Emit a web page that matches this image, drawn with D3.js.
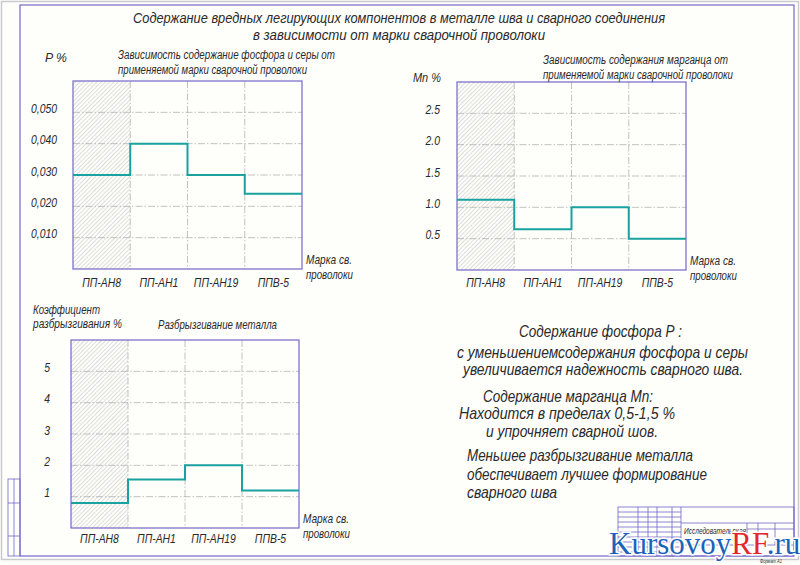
<!DOCTYPE html>
<html>
<head>
<meta charset="utf-8">
<title>Содержание вредных легирующих компонентов</title>
<script src="https://d3js.org/d3.v7.min.js"></script>
<style>
    body { margin: 0; background: #fefefb; }
    svg { display: block; }
    text { font-family: "Liberation Sans", Arimo, sans-serif; font-style: italic; fill: #2a2a2a; }
</style>
</head>
<body>
<div id="sheet"></div>
<script>
    // wire grades on the x axis (same for all three charts)
    const wires = ["ПП-АН8", "ПП-АН1", "ПП-АН19", "ППВ-5"];

    // series
    const phosphorus = [0.030, 0.040, 0.030, 0.024];
    const manganese = [1.12, 0.65, 1.0, 0.5];
    const spatter = [0.8, 1.55, 2.0, 1.2];

    // tick values and labels
    const pTicks = [0.01, 0.02, 0.03, 0.04, 0.05];
    const pTickLabels = ["0,010", "0,020", "0,030", "0,040", "0,050"];
    const mnTicks = [0.5, 1.0, 1.5, 2.0, 2.5];
    const mnTickLabels = ["0.5", "1.0", "1.5", "2.0", "2.5"];
    const spTicks = [1, 2, 3, 4, 5];
    const spTickLabels = ["1", "2", "3", "4", "5"];

    const notes = [
        "Содержание фосфора Р :",
        "с уменьшениемсодержания фосфора и серы",
        "увеличивается надежность сварного шва.",
        "Содержание марганца Mn:",
        "Находится в пределах 0,5-1,5 %",
        "и упрочняет сварной шов.",
        "Меньшее разбрызгивание металла",
        "обеспечивает лучшее формирование",
        "сварного шва"
    ];

    const W = 800, H = 565;
    const frameColor = "#7367c9";
    const lineColor = "#19a29f";
    const narrow = 0.8; // the drawing font is tall and narrow

    const svg = d3.select("#sheet").append("svg")
        .attr("width", W).attr("height", H);

    // squeeze a text to a width (or by the narrow factor)
    function squeeze(sel, width) {
        sel.each(function () {
            const w = width || this.getComputedTextLength() * narrow;
            d3.select(this).attr("textLength", w).attr("lengthAdjust", "spacingAndGlyphs");
        });
    }

    function label(x, y, size, str, width, anchor) {
        const t = svg.append("text").attr("x", x).attr("y", y)
            .attr("text-anchor", anchor || "start")
            .style("font-size", size + "px").text(str);
        squeeze(t, width);
        return t;
    }

    // hatch pattern for the first column
    svg.append("defs").append("pattern")
        .attr("id", "hatch")
        .attr("patternUnits", "userSpaceOnUse")
        .attr("width", 3).attr("height", 3)
        .attr("patternTransform", "rotate(45)")
        .append("line")
        .attr("x1", 0).attr("y1", 0).attr("x2", 0).attr("y2", 3)
        .attr("stroke", "#a9a9a9").attr("stroke-width", 0.8);

    // sheet border and drawing frame
    svg.append("rect").attr("x", 1.5).attr("y", 1.5).attr("width", 797).attr("height", 558)
        .attr("fill", "none").attr("stroke", "#c9c9cf").attr("stroke-width", 1.5);
    svg.append("rect").attr("x", 20).attr("y", 5).attr("width", 774).attr("height", 551)
        .attr("fill", "none").attr("stroke", frameColor).attr("stroke-width", 1.2);

    // title
    label(133, 23, 15, "Содержание вредных легирующих компонентов в металле шва и сварного соединения", 532);
    label(253, 40, 15, "в зависимости от марки сварочной проволоки", 292);

    function drawPanel(p) {
        const g = svg.append("g");

        const x = d3.scaleBand().domain(wires).range([p.left, p.right]).padding(0);
        const y = d3.scaleLinear().domain([0, p.max]).range([p.bottom, p.top]);

        // hatched first column
        g.append("rect")
            .attr("x", x(wires[0])).attr("y", p.top)
            .attr("width", x.bandwidth()).attr("height", p.bottom - p.top)
            .attr("fill", "url(#hatch)");

        // dash-dot grid
        g.selectAll(".hgrid").data(p.ticks).enter().append("line")
            .attr("x1", p.left).attr("x2", p.right)
            .attr("y1", d => y(d)).attr("y2", d => y(d))
            .attr("stroke", "#b3b3b3").attr("stroke-width", 0.8)
            .attr("stroke-dasharray", "7,2,1.5,2");
        g.selectAll(".vgrid").data(wires.slice(1)).enter().append("line")
            .attr("x1", d => x(d)).attr("x2", d => x(d))
            .attr("y1", p.top).attr("y2", p.bottom)
            .attr("stroke", "#b3b3b3").attr("stroke-width", 0.8)
            .attr("stroke-dasharray", "7,2,1.5,2");

        // frame
        g.append("rect")
            .attr("x", p.left).attr("y", p.top)
            .attr("width", p.right - p.left).attr("height", p.bottom - p.top)
            .attr("fill", "none").attr("stroke", frameColor).attr("stroke-width", 1.2);

        // step line
        const pts = p.values.map((v, i) => [x(wires[i]), y(v)]);
        pts.push([x.range()[1], y(p.values[p.values.length - 1])]);
        g.append("path")
            .attr("d", d3.line().curve(d3.curveStepAfter)(pts))
            .attr("fill", "none").attr("stroke", lineColor).attr("stroke-width", 2);

        // y tick labels
        const yAxis = g.append("g")
            .attr("transform", `translate(${p.left},0)`)
            .call(d3.axisLeft(y).tickValues(p.ticks).tickSize(0).tickPadding(p.labelPad)
                .tickFormat((d, i) => p.tickLabels[i]));
        yAxis.select(".domain").remove();
        yAxis.selectAll("text").attr("dy", 0).attr("fill", "#2a2a2a")
            .style("font-size", "13px").style("font-family", null).call(squeeze);

        // x labels
        const xAxis = g.append("g")
            .attr("transform", `translate(0,${p.bottom})`)
            .call(d3.axisBottom(x).tickSize(0).tickPadding(0));
        xAxis.select(".domain").remove();
        xAxis.selectAll("text").attr("dy", p.xLabelDy).attr("fill", "#2a2a2a")
            .style("font-size", "13px").style("font-family", null).call(squeeze);

        // x axis caption
        label(p.right + 4, p.bottom - 5, 13, "Марка св.", 46);
        label(p.right + 4, p.bottom + 10, 13, "проволоки", 47);
    }

    drawPanel({
        left: 73, right: 302, top: 81, bottom: 269, max: 0.06,
        values: phosphorus, ticks: pTicks, tickLabels: pTickLabels,
        labelPad: 16, xLabelDy: 18
    });
    drawPanel({
        left: 457, right: 686, top: 82, bottom: 270, max: 3,
        values: manganese, ticks: mnTicks, tickLabels: mnTickLabels,
        labelPad: 17, xLabelDy: 17
    });
    drawPanel({
        left: 71, right: 299, top: 340, bottom: 528, max: 6,
        values: spatter, ticks: spTicks, tickLabels: spTickLabels,
        labelPad: 21, xLabelDy: 15
    });

    // captions of the charts
    label(45, 62, 13, "P %", 22);
    label(118, 59, 12.5, "Зависимость содержание фосфора и серы от", 217);
    label(118, 74, 12.5, "применяемой марки сварочной проволоки", 189);
    label(413, 82, 13, "Mn %", 28);
    label(543, 64, 12.5, "Зависимость содержания марганца от", 185);
    label(543, 79, 12.5, "применяемой марки сварочной проволоки", 190);
    label(33, 314, 13, "Коэффициент", 67);
    label(33, 328, 13, "разбрызгивания %", 89);
    label(158, 329, 13, "Разбрызгивание металла", 119);

    // notes on the right
    const noteX = [519, 457, 463, 483, 459, 486, 467, 467, 467];
    const noteY = [337, 358, 375, 402, 419, 437, 461, 480, 498];
    const noteW = [163, 291, 280, 170, 216, 172, 226, 240, 90];
    notes.forEach((n, i) => label(noteX[i], noteY[i], 17, n, noteW[i]));

    // left margin stamp
    const stamp = svg.append("g").attr("stroke", frameColor).attr("stroke-width", 0.8).attr("fill", "none");
    stamp.append("rect").attr("x", 8).attr("y", 479).attr("width", 12).attr("height", 77);
    stamp.append("line").attr("x1", 14).attr("x2", 14).attr("y1", 479).attr("y2", 556);
    [503, 536].forEach(v => stamp.append("line").attr("x1", 8).attr("x2", 20).attr("y1", v).attr("y2", v));

    // title block
    const tb = svg.append("g").attr("stroke", frameColor).attr("stroke-width", 0.8).attr("fill", "none");
    tb.append("rect").attr("x", 618).attr("y", 507).attr("width", 176).attr("height", 49);
    [638, 648, 657, 672, 681].forEach(v => tb.append("line").attr("x1", v).attr("x2", v).attr("y1", 507).attr("y2", 556));
    d3.range(512, 556, 5).forEach(v => tb.append("line").attr("x1", 618).attr("x2", 681).attr("y1", v).attr("y2", v));
    [523, 545].forEach(v => tb.append("line").attr("x1", 681).attr("x2", 794).attr("y1", v).attr("y2", v));
    tb.append("line").attr("x1", 747).attr("x2", 794).attr("y1", 529).attr("y2", 529);
    [747, 758, 775].forEach(v => tb.append("line").attr("x1", v).attr("x2", v).attr("y1", 523).attr("y2", 545));
    label(684, 534, 9, "Исследовательская", 62);
    label(760, 563, 5, "Формат   А1", 22);

    // watermark
    const wm = svg.append("text").attr("x", 609).attr("y", 554)
        .attr("stroke", "#ffffff").attr("stroke-width", 3).attr("paint-order", "stroke")
        .style("font-family", "'Liberation Serif', 'DejaVu Serif', serif")
        .style("font-style", "normal").style("font-size", "31px");
    wm.append("tspan").style("fill", "#1b63b8").text("Kursovoy");
    wm.append("tspan").style("fill", "#e3262b").text("RF");
    wm.append("tspan").style("fill", "#1b63b8").text(".ru");
</script>
</body>
</html>
